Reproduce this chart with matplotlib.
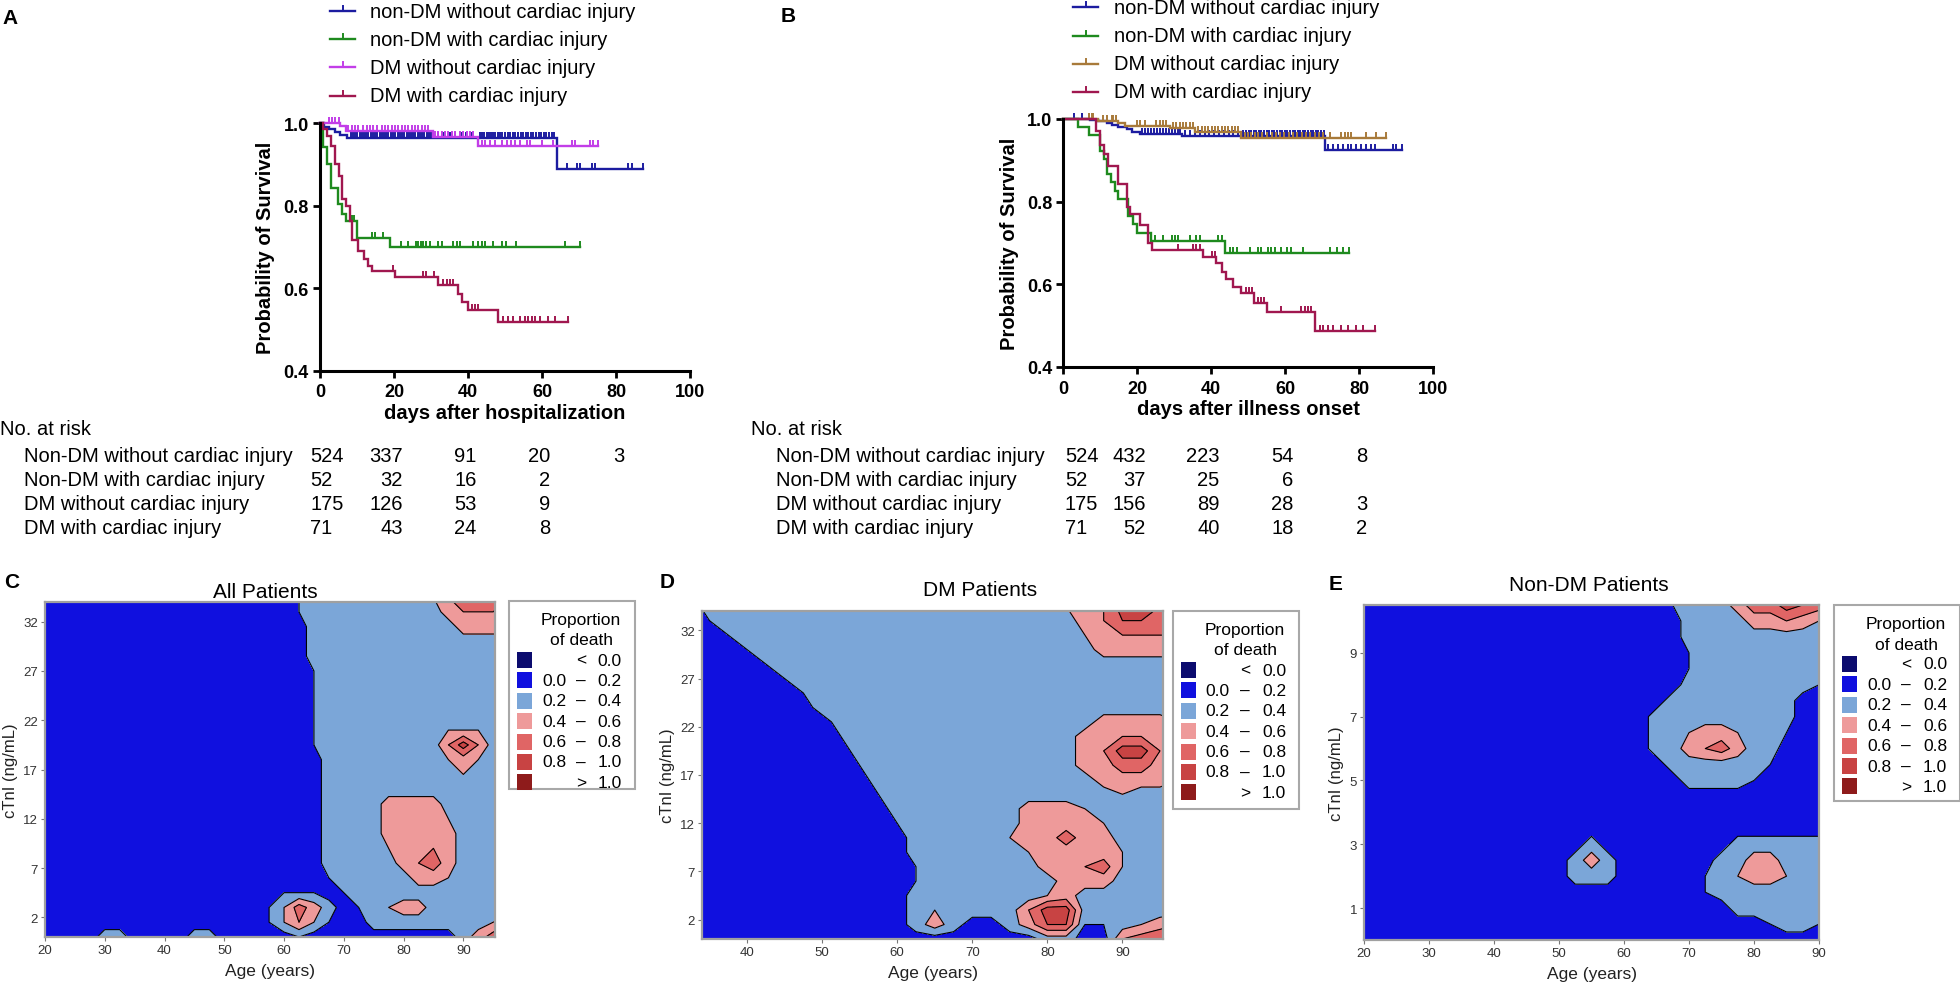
import numpy as np
import matplotlib.pyplot as plt
from matplotlib import font_manager
from matplotlib.path import Path
from matplotlib.patches import Rectangle
from matplotlib.lines import Line2D
from matplotlib.ticker import FormatStrFormatter
from matplotlib.transforms import blended_transform_factory

plt.rcParams['font.family'] = ['Liberation Sans', 'DejaVu Sans']

# the survival panels use a condensed face when one is installed
try:
    font_manager.findfont('Liberation Sans Narrow', fallback_to_default=False)
    NARROW, KM_TXT, KM_TICK, KM_XLAB = 'Liberation Sans Narrow', 17, 16, 18
except ValueError:
    NARROW, KM_TXT, KM_TICK, KM_XLAB = 'Liberation Sans', 14.5, 13, 14.5

# ---------------- Kaplan-Meier curves ----------------
group_names = ['non-DM without cardiac injury', 'non-DM with cardiac injury',
               'DM without cardiac injury', 'DM with cardiac injury']
table_names = ['Non-DM without cardiac injury', 'Non-DM with cardiac injury',
               'DM without cardiac injury', 'DM with cardiac injury']

# A: days after hospitalization  (drop days, survival after drop, last day, censored days)
hosp_t = [
    [1.0, 2.5, 4.0, 5.5, 7.2, 64.0],
    [0.9, 2.0, 2.9, 4.8, 5.9, 6.9, 9.9, 18.9],
    [5.5, 7.0, 30.6, 42.8],
    [0.9, 1.8, 3.0, 4.1, 5.0, 5.9, 6.9, 8.0, 8.7, 10.4, 12.0, 13.1, 14.0, 20.3, 32.0, 37.4, 38.3, 40.1, 48.2],
]
hosp_s = [
    [0.992, 0.985, 0.978, 0.972, 0.964, 0.889],
    [0.942, 0.901, 0.843, 0.804, 0.780, 0.762, 0.722, 0.700],
    [0.994, 0.982, 0.966, 0.946],
    [0.986, 0.970, 0.946, 0.901, 0.873, 0.817, 0.800, 0.764, 0.716, 0.691, 0.671, 0.655, 0.643, 0.627,
     0.609, 0.586, 0.566, 0.546, 0.518],
]
hosp_end = [87.3, 70.2, 75.2, 67.1]
hosp_cens = [
    [8.3, 8.9, 9.5, 10.1, 10.7, 11.3, 11.9, 12.5, 13.1, 13.7, 14.3, 14.9, 15.5, 16.1, 16.7, 17.3, 17.9,
     18.5, 19.1, 19.8, 20.4, 21.0, 21.6, 22.2, 22.8, 23.4, 24.0, 24.6, 25.2, 25.8, 26.4, 27.0, 27.6,
     28.2, 28.8, 29.4, 30.0, 30.6, 32.0, 33.5, 35.0, 36.4, 38.0, 39.5, 41.0, 43.2, 43.8, 44.4, 45.0,
     45.6, 46.2, 46.8, 47.4, 48.0, 48.6, 49.3, 50.0, 50.7, 51.4, 52.1, 52.8, 53.5, 54.2, 54.9, 55.6,
     56.3, 57.0, 57.7, 58.4, 59.1, 59.8, 60.5, 61.2, 61.9, 62.6, 63.3, 66.7, 69.4, 70.3, 73.4, 74.3,
     83.3, 84.2, 87.3],
    [8.6, 9.2, 14.0, 14.9, 16.9, 21.9, 23.9, 25.9, 26.6, 27.3, 27.9, 28.6, 29.7, 32.0, 32.9, 36.0, 36.9,
     37.8, 41.4, 42.8, 43.7, 44.6, 46.8, 49.1, 50.2, 53.0, 66.2, 70.2],
    [2.3, 3.2, 4.1, 5.0, 7.7, 8.6, 9.5, 10.4, 11.7, 12.6, 13.5, 14.4, 15.3, 16.7, 17.6, 18.5, 19.4, 20.3,
     21.2, 22.1, 23.0, 23.9, 24.8, 25.7, 26.6, 27.5, 28.4, 29.3, 31.1, 32.0, 32.9, 33.8, 34.7, 35.6,
     36.5, 37.8, 38.7, 39.6, 40.5, 41.4, 43.7, 44.6, 46.0, 47.3, 49.3, 50.5, 51.6, 52.7, 54.1, 55.9,
     56.8, 59.9, 63.1, 68.0, 68.9, 73.0, 73.9, 75.2],
    [19.8, 27.9, 28.6, 30.9, 33.3, 34.2, 35.1, 36.0, 41.0, 41.9, 42.8, 49.5, 50.9, 52.2, 54.0, 55.4, 56.3,
     57.2, 58.1, 59.5, 61.7, 63.5, 67.1],
]

# B: days after illness onset
onset_t = [
    [7.2, 9.5, 11.7, 13.1, 14.9, 17.1, 18.5, 20.7, 32.0, 70.7],
    [4.0, 7.0, 9.9, 10.9, 11.9, 12.9, 13.9, 14.9, 17.5, 18.8, 20.0, 23.6, 43.8],
    [9.5, 14.9, 16.7, 28.8, 35.6, 48.2],
    [8.8, 9.9, 11.0, 12.2, 14.9, 17.1, 18.0, 20.7, 23.0, 23.9, 37.8, 41.4, 42.8, 44.0, 45.9, 48.2, 51.6,
     55.0, 68.0],
]
onset_s = [
    [0.998, 0.994, 0.990, 0.986, 0.980, 0.976, 0.969, 0.964, 0.960, 0.924],
    [0.980, 0.961, 0.923, 0.903, 0.867, 0.847, 0.826, 0.806, 0.766, 0.745, 0.725, 0.705, 0.675],
    [0.996, 0.990, 0.984, 0.978, 0.969, 0.955],
    [0.972, 0.936, 0.916, 0.886, 0.843, 0.787, 0.771, 0.743, 0.699, 0.683, 0.667, 0.651, 0.631, 0.613,
     0.594, 0.578, 0.554, 0.532, 0.488],
]
onset_end = [91.5, 77.2, 87.4, 84.2]
onset_cens = [
    [2.9, 5.0, 21.3, 22.1, 22.9, 23.7, 24.5, 25.3, 26.1, 26.9, 27.7, 28.5, 29.3, 30.1, 30.9, 31.7, 33.0,
     34.3, 35.6, 36.9, 38.2, 39.5, 40.8, 42.1, 43.4, 44.7, 46.0, 47.3, 48.6, 49.4, 50.1, 50.8, 51.5,
     52.2, 52.9, 53.6, 54.3, 55.0, 55.7, 56.4, 57.1, 57.8, 58.5, 59.2, 59.9, 60.6, 61.3, 62.0, 62.7,
     63.4, 64.1, 64.8, 65.5, 66.2, 66.9, 67.6, 68.3, 69.0, 69.7, 70.4, 71.6, 73.0, 74.3, 75.7, 77.0,
     77.9, 79.3, 80.6, 82.0, 83.3, 84.2, 89.2, 90.1, 91.5],
    [24.8, 27.0, 29.3, 30.2, 31.1, 34.2, 36.0, 36.9, 41.9, 42.8, 45.0, 46.0, 47.0, 50.5, 52.7, 53.6, 55.4,
     56.3, 57.2, 59.0, 60.4, 61.7, 64.9, 72.1, 73.9, 75.7, 77.2],
    [7.0, 7.7, 8.1, 10.8, 11.7, 13.1, 13.5, 14.2, 19.8, 20.7, 22.1, 25.2, 26.1, 27.0, 27.9, 29.7, 30.6,
     31.5, 32.4, 33.3, 34.2, 35.1, 36.5, 37.4, 38.3, 39.2, 40.1, 41.0, 41.9, 42.8, 43.7, 44.6, 45.5,
     46.4, 47.3, 49.1, 50.0, 50.9, 51.8, 52.7, 53.8, 55.0, 56.4, 57.5, 58.6, 59.8, 61.0, 62.2, 63.3,
     64.5, 65.7, 66.8, 68.0, 69.2, 70.3, 72.1, 75.2, 76.1, 77.0, 77.9, 82.0, 84.7, 87.4],
    [31.1, 35.1, 36.0, 36.9, 40.1, 41.0, 49.4, 50.3, 51.1, 52.7, 53.4, 54.2, 59.0, 64.4, 65.3, 66.2, 67.1,
     69.4, 70.3, 71.6, 73.0, 75.2, 77.0, 79.3, 81.1, 84.2],
]

hosp_risk = [[524, 337, 91, 20, 3], [52, 32, 16, 2], [175, 126, 53, 9], [71, 43, 24, 8]]
onset_risk = [[524, 432, 223, 54, 8], [52, 37, 25, 6], [175, 156, 89, 28, 3], [71, 52, 40, 18, 2]]

colors_a = ['#1c1ca0', '#1e8a1e', '#c23ee8', '#a0174f']
colors_b = ['#1c1ca0', '#1e8a1e', '#a87a3a', '#a0174f']

# ---------------- Proportion of death surfaces (class per grid node) ----------------
# digit d = proportion d/10 ; rows listed from the top of the map down
c_ages = np.arange(20, 98, 2.5)
c_ctni = np.arange(0, 35, 1.5)
c_rows = [
    "1" * 17 + "2" + "3" * 8 + "467976",
    "1" * 17 + "2" + "3" * 9 + "56666",
    "1" * 18 + "3" * 10 + "5555",
    "1" * 18 + "3" * 14,
    "1" * 18 + "3" * 14,
    "1" * 18 + "2" + "3" * 13,
    "1" * 18 + "2" + "3" * 13,
    "1" * 18 + "2" + "3" * 13,
    "1" * 18 + "2" + "3" * 13,
    "1" * 18 + "2" + "3" * 8 + "444" + "33",
    "1" * 18 + "2" + "3" * 8 + "696" + "33",
    "1" * 19 + "3" * 8 + "454" + "33",
    "1" * 19 + "3" * 9 + "4" + "333",
    "1" * 19 + "3" * 13,
    "1" * 19 + "3333" + "5555" + "3" * 5,
    "1" * 19 + "3333" + "5555" + "4" + "3333",
    "1" * 19 + "3333" + "55555" + "3333",
    "1" * 19 + "3333" + "45565" + "3333",
    "1" * 19 + "3333" + "35675" + "3333",
    "1" * 19 + "2" + "3333" + "3554" + "3333",
    "1" * 16 + "222" + "1" + "2" + "3" * 11,
    "1" * 15 + "2475312" + "3455" + "3" * 6,
    "1" * 15 + "24642" + "11" + "3" * 8 + "45",
    "1111" + "33" + "1111" + "33" + "11111" + "2" + "1" * 10 + "3579",
]

d_ages = np.arange(32.5, 98, 2.5)
d_ctni = np.arange(0, 35, 1.5)
d_rows = [
    "1" + "3" * 19 + "4569987",
    "1" + "2" + "3" * 19 + "568877",
    "11" + "2" + "3" * 18 + "456666",
    "111" + "2" + "3" * 18 + "55555",
    "1" * 4 + "2" + "3" * 22,
    "1" * 5 + "2" + "3" * 21,
    "1" * 6 + "2" + "3" * 20,
    "1" * 7 + "3" * 20,
    "1" * 8 + "3" * 14 + "55554",
    "1" * 8 + "2" + "3" * 12 + "556654",
    "1" * 9 + "3" * 12 + "569965",
    "1" * 9 + "2" + "3" * 11 + "557754",
    "1" * 10 + "3" * 12 + "55554",
    "1" * 10 + "2" + "3" * 12 + "4" + "333",
    "1" * 11 + "3" * 7 + "5554" + "3" * 5,
    "1" * 11 + "2" + "3" * 6 + "55554" + "3333",
    "1" * 12 + "3" * 5 + "4557553" + "333",
    "1" * 12 + "3" * 6 + "4" + "5555" + "4" + "333",
    "1" * 12 + "2" + "3" * 6 + "55674" + "333",
    "1" * 12 + "2" + "3" * 7 + "555" + "3333",
    "1" * 12 + "3" * 7 + "45" + "3" * 6,
    "1" * 12 + "3" + "4" + "3333" + "6" + "99" + "3" * 6,
    "1" * 12 + "353113588223456",
    "1" * 19 + "33116789",
]

e_ages = np.arange(20, 91, 2.5)
e_ctni = np.arange(0, 10.6, 0.5)
e_rows = [
    "1" * 19 + "2" + "333" + "577987",
    "1" * 20 + "3333" + "55654",
    "1" * 20 + "3" * 9,
    "1" * 20 + "2" + "3" * 8,
    "1" * 20 + "2" + "3" * 8,
    "1" * 20 + "3" * 8 + "2",
    "1" * 19 + "3" * 8 + "11",
    "1" * 18 + "3" * 9 + "11",
    "1" * 18 + "33" + "4554" + "33" + "2" + "11",
    "1" * 18 + "33" + "5675" + "33" + "111",
    "1" * 19 + "3" * 6 + "2" + "111",
    "1" * 20 + "3333" + "2" + "1111",
    "1" * 29,
    "1" * 29,
    "1" * 29,
    "1" * 14 + "3" + "1" * 8 + "3" * 6,
    "1" * 13 + "353" + "1" * 6 + "33553" + "33",
    "1" * 13 + "333" + "1" * 5 + "23" + "4554" + "33",
    "1" * 21 + "2" + "3" * 7,
    "1" * 23 + "3" * 6,
    "1" * 25 + "2332",
    "1" * 29,
]

prop_levels = [0, 0.2, 0.4, 0.6, 0.8, 1.0]
prop_colors = ['#0b0b6e', '#1010df', '#7ba6d8', '#ee9a9a', '#e06565', '#c84343', '#8e1b1b']
prop_bins = [('<', '0.0'), ('0.0', '0.2'), ('0.2', '0.4'), ('0.4', '0.6'),
             ('0.6', '0.8'), ('0.8', '1.0'), ('>', '1.0')]

# ---------------- figure ----------------
W, H = 1960, 987
fig = plt.figure(figsize=(W / 100, H / 100), dpi=100)


def fx(x):
    return x / W


def fy(y):
    return 1 - y / H


def add_ax(x0, y0, x1, y1):
    return fig.add_axes([fx(x0), fy(y1), (x1 - x0) / W, (y1 - y0) / H])


def ftext(x, y, s, **kw):
    return fig.text(fx(x), fy(y), s, **kw)


TICK = Path([(0, 0), (0, 1)], [Path.MOVETO, Path.LINETO])


def km_axes(x0, y0, x1, y1, xlabel):
    ax = add_ax(x0, y0, x1, y1)
    ax.set_xlim(0, 100)
    ax.set_ylim(0.4, 1.0)
    ax.set_xticks(range(0, 101, 20))
    ax.set_yticks([0.4, 0.6, 0.8, 1.0])
    ax.yaxis.set_major_formatter(FormatStrFormatter('%.1f'))
    for s in ['top', 'right']:
        ax.spines[s].set_visible(False)
    for s in ['left', 'bottom']:
        ax.spines[s].set_linewidth(2.2)
    ax.tick_params(width=2.0, length=5, labelsize=KM_TICK, pad=3)
    ax.tick_params(axis='x', pad=4)
    plt.setp(ax.get_xticklabels() + ax.get_yticklabels(), fontweight='bold', family=NARROW)
    ax.set_xlabel(xlabel, fontsize=KM_XLAB, fontweight='bold', family=NARROW, labelpad=2)
    ax.set_ylabel('Probability of Survival', fontsize=14.5, fontweight='bold', labelpad=6)
    return ax


def km_curve(ax, days, surv, end, cens, color):
    t = np.r_[0, days, end]
    s = np.r_[1, surv, surv[-1]]
    ax.plot(t, s, drawstyle='steps-post', color=color, lw=1.7, clip_on=False,
            solid_joinstyle='miter')
    c = np.asarray(cens)
    idx = np.searchsorted(t, c, side='right') - 1
    ax.plot(c, s[np.clip(idx, 0, len(s) - 1)], ls='none', marker=TICK, ms=8, mew=1.4,
            mec=color, mfc='none', clip_on=False)


def km_legend(x_line, x_text, rows_y, colors):
    for name, col, y in zip(group_names, colors, rows_y):
        fig.add_artist(Line2D([fx(x_line), fx(x_line + 25)], [fy(y), fy(y)], color=col, lw=1.7))
        fig.add_artist(Line2D([fx(x_line + 12.5)] * 2, [fy(y), fy(y - 5)], color=col, lw=1.4))
        ftext(x_text, y, name, fontsize=KM_TXT, family=NARROW, va='center')


def risk_table(ax, x_title, x_rows, counts, first_offset):
    ftext(x_title, 430, 'No. at risk', fontsize=KM_TXT, family=NARROW, va='center')
    tr = blended_transform_factory(ax.transData, fig.transFigure)
    for name, row, y in zip(table_names, counts, [457, 480, 505, 529]):
        ftext(x_rows, y, name, fontsize=KM_TXT, family=NARROW, va='center')
        for c, n in enumerate(row):
            if c == 0:
                ax.text(first_offset, fy(y), str(n), transform=tr, ha='left', va='center',
                        fontsize=KM_TXT, family=NARROW)
            else:
                ax.text(20 * c + 2.3, fy(y), str(n), transform=tr, ha='right', va='center',
                        fontsize=KM_TXT, family=NARROW)


# Panel A
ax_a = km_axes(320, 124.3, 690, 371.7, 'days after hospitalization')
for k in range(4):
    km_curve(ax_a, hosp_t[k], hosp_s[k], hosp_end[k], hosp_cens[k], colors_a[k])
km_legend(330, 370, [12, 40, 68, 97], colors_a)
risk_table(ax_a, 0, 24, hosp_risk, -2.7)
ftext(2, 18, 'A', fontsize=15, fontweight='bold', va='center')

# Panel B
ax_b = km_axes(1063.3, 120, 1433, 368, 'days after illness onset')
for k in range(4):
    km_curve(ax_b, onset_t[k], onset_s[k], onset_end[k], onset_cens[k], colors_b[k])
km_legend(1073, 1114, [8, 37, 65, 93], colors_b)
risk_table(ax_b, 751, 776, onset_risk, 0.4)
ftext(781, 17, 'B', fontsize=15, fontweight='bold', va='center')


def prop_legend(x0, y0, h):
    fig.patches.append(Rectangle((fx(x0), fy(y0 + h)), 126 / W, h / H, transform=fig.transFigure,
                                 fc='white', ec='#a8a8a8', lw=1.5))
    ftext(x0 + 72, y0 + 19, 'Proportion', ha='center', va='center', fontsize=12.5)
    ftext(x0 + 72, y0 + 39, 'of death', ha='center', va='center', fontsize=12.5)
    for i, ((lo, hi), col) in enumerate(zip(prop_bins, prop_colors)):
        y = y0 + 59 + 20.4 * i
        fig.patches.append(Rectangle((fx(x0 + 8), fy(y + 8)), 15 / W, 16 / H,
                                     transform=fig.transFigure, fc=col, ec='none'))
        if lo in '<>':
            ftext(x0 + 72, y, lo, ha='center', va='center', fontsize=12.5)
        else:
            ftext(x0 + 57, y, lo, ha='right', va='center', fontsize=12.5)
            ftext(x0 + 72, y, '\u2013', ha='center', va='center', fontsize=12.5)
        ftext(x0 + 113, y, hi, ha='right', va='center', fontsize=12.5)


def prop_panel(box, ages, ctni, rows, xlim, ylim, xticks, yticks):
    ax = add_ax(*box)
    z = np.array([[int(ch) / 10 for ch in r] for r in rows[::-1]])
    ax.contourf(ages, ctni, z, levels=prop_levels, colors=prop_colors[1:6])
    ax.contour(ages, ctni, z, levels=prop_levels[1:5], colors='k', linewidths=0.8)
    ax.set_xlim(*xlim)
    ax.set_ylim(*ylim)
    ax.set_xticks(xticks)
    ax.set_yticks(yticks)
    for s in ax.spines.values():
        s.set_color('#a0a0a0')
        s.set_linewidth(1.6)
    ax.tick_params(length=3, width=0.8, color='#777777', labelsize=9.5, labelcolor='#333333', pad=2)
    ax.set_xlabel('Age (years)', fontsize=12.5, color='#222222', labelpad=5)
    ax.set_ylabel('cTnI (ng/mL)', fontsize=12, color='#222222', labelpad=4)
    return ax


prop_panel((45, 603, 495, 938), c_ages, c_ctni, c_rows, (20, 95.3), (0, 34),
           range(20, 91, 10), [2, 7, 12, 17, 22, 27, 32])
ftext(265, 592, 'All Patients', ha='center', va='center', fontsize=15)
ftext(4, 583, 'C', fontsize=15, fontweight='bold', va='center')
prop_legend(509, 602, 188)

prop_panel((702, 612, 1163, 940), d_ages, d_ctni, d_rows, (34, 95.4), (0, 34),
           range(40, 91, 10), [2, 7, 12, 17, 22, 27, 32])
ftext(980, 591, 'DM Patients', ha='center', va='center', fontsize=15)
ftext(660, 583, 'D', fontsize=15, fontweight='bold', va='center')
prop_legend(1173, 612, 198)

prop_panel((1364, 606, 1819, 941), e_ages, e_ctni, e_rows, (20, 90), (0, 10.5),
           range(20, 91, 10), [1, 3, 5, 7, 9])
ftext(1589, 586, 'Non-DM Patients', ha='center', va='center', fontsize=15)
ftext(1329, 585, 'E', fontsize=15, fontweight='bold', va='center')
prop_legend(1834, 606, 196)

fig.savefig('out.png', dpi=100)
